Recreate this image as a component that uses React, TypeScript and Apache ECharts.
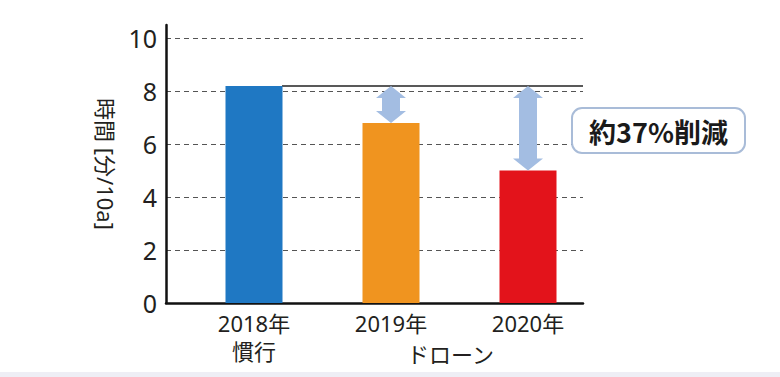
import React, { useEffect, useRef } from "react";
import * as echarts from "echarts";

const categories = ["2018年\n慣行", "2019年", "2020年"];
const values = [8.2, 6.8, 5.0];
const barColors = ["#1f78c3", "#f0941f", "#e3131b"];
const yMin = 0;
const yMax = 10.5;
const yInterval = 2;
const yAxisName = "時間 [分/10a]";
const groupLabel = "ドローン";
const annotationText = "約37%削減";
// reduction arrows: [category index, from value (baseline), to value]
const arrowData = [
  [1, values[0], values[1]],
  [2, values[0], values[2]],
];

const FONT = "'Noto Sans', 'Noto Sans CJK JP', sans-serif";
const CJK = "'Noto Sans CJK JP', sans-serif";

export default function App() {
  const ref = useRef<HTMLDivElement>(null);
  useEffect(() => {
    if (!ref.current) return;
    const chart = echarts.init(ref.current, null, { renderer: "svg" });
    const gridTop = 25;
    const gridBottom = 74;
    chart.setOption({
      animation: false,
      backgroundColor: "#ffffff",
      textStyle: { fontFamily: FONT },
      grid: [
        { left: 166, right: 197, top: gridTop, bottom: gridBottom },
        { left: 185.5, width: 411, top: gridTop, bottom: gridBottom },
      ],
      xAxis: [
        {
          type: "value",
          gridIndex: 0,
          min: 0,
          max: 1,
          axisLine: { show: true, lineStyle: { color: "#111", width: 2.5 } },
          axisTick: { show: false },
          axisLabel: { show: false },
          splitLine: { show: false },
        },
        {
          type: "category",
          gridIndex: 1,
          data: categories,
          axisLine: { show: false },
          axisTick: { show: false },
          axisLabel: {
            color: "#231f20",
            fontSize: 22,
            lineHeight: 28,
            margin: 6,
            fontFamily: FONT,
          },
        },
      ],
      yAxis: [
        {
          type: "value",
          gridIndex: 0,
          min: yMin,
          max: yMax,
          interval: yInterval,
          name: yAxisName,
          nameLocation: "middle",
          nameRotate: -90,
          nameGap: 48,
          nameTextStyle: { color: "#231f20", fontSize: 22, fontFamily: FONT },
          axisLine: { show: true, lineStyle: { color: "#111", width: 2.5 } },
          axisTick: { show: false },
          axisLabel: {
            color: "#231f20",
            fontSize: 25,
            margin: 9,
            fontFamily: FONT,
            showMaxLabel: false,
            formatter: (v: number) => (v % yInterval === 0 ? String(v) : ""),
          },
          splitLine: {
            show: true,
            showMaxLine: false,
            showMinLine: false,
            lineStyle: { color: "#555", width: 1, type: [5, 4] },
          },
        },
        {
          type: "value",
          gridIndex: 1,
          min: yMin,
          max: yMax,
          interval: yInterval,
          show: false,
          splitLine: { show: false },
        },
      ],
      series: [
        {
          type: "bar",
          xAxisIndex: 1,
          yAxisIndex: 1,
          barWidth: 57,
          z: 3,
          data: values.map((v, i) => ({ value: v, itemStyle: { color: barColors[i] } })),
        },
        {
          type: "custom",
          xAxisIndex: 1,
          yAxisIndex: 1,
          z: 4,
          data: arrowData,
          renderItem: (params: any, api: any) => {
            const x = api.value(0);
            const top = api.coord([x, api.value(1)]);
            const bot = api.coord([x, api.value(2)]);
            const cx = top[0];
            const t = top[1];
            const b = bot[1];
            const hw = 15;
            const sw = 9;
            const hh = 12;
            return {
              type: "polygon",
              shape: {
                points: [
                  [cx, t],
                  [cx + hw, t + hh],
                  [cx + sw, t + hh],
                  [cx + sw, b - hh],
                  [cx + hw, b - hh],
                  [cx, b],
                  [cx - hw, b - hh],
                  [cx - sw, b - hh],
                  [cx - sw, t + hh],
                  [cx - hw, t + hh],
                ],
              },
              style: { fill: "#a3bde2" },
            };
          },
        },
      ],
    });

    const barLeft = chart.convertToPixel({ xAxisIndex: 1, yAxisIndex: 1 }, [0, values[0]]) as number[];
    const rightX = chart.convertToPixel({ xAxisIndex: 0 }, 1) as number;
    const c1 = chart.convertToPixel({ xAxisIndex: 1, yAxisIndex: 1 }, [1, 0]) as number[];
    const c2 = chart.convertToPixel({ xAxisIndex: 1, yAxisIndex: 1 }, [2, 0]) as number[];
    const groupX = (c1[0] + c2[0]) / 2 - 9;

    chart.setOption({
      graphic: [
        {
          type: "line",
          z: 1,
          shape: { x1: barLeft[0] + 28, y1: barLeft[1], x2: rightX, y2: barLeft[1] },
          style: { stroke: "#222", lineWidth: 1.5 },
        },
        {
          type: "text",
          x: groupX,
          y: 353,
          style: {
            text: groupLabel,
            fill: "#231f20",
            font: `22px ${CJK}`,
            textAlign: "center",
            textVerticalAlign: "middle",
          },
        },
        {
          type: "rect",
          z: 10,
          shape: { x: 572, y: 108, width: 173, height: 45, r: 10 },
          style: { fill: "#ffffff", stroke: "#a9bcd8", lineWidth: 2 },
        },
        {
          type: "text",
          z: 11,
          x: 658.5,
          y: 131,
          style: {
            text: annotationText,
            fill: "#1a1a1a",
            font: `bold 27px ${CJK}`,
            textAlign: "center",
            textVerticalAlign: "middle",
          },
        },
        {
          type: "rect",
          z: 0,
          shape: { x: 0, y: 372, width: 780, height: 5 },
          style: { fill: "#eeeef5" },
        },
      ],
    });

    return () => chart.dispose();
  }, []);
  return (
    <div
      ref={ref}
      style={{ position: "absolute", left: 0, top: 0, width: 780, height: 377 }}
    />
  );
}
